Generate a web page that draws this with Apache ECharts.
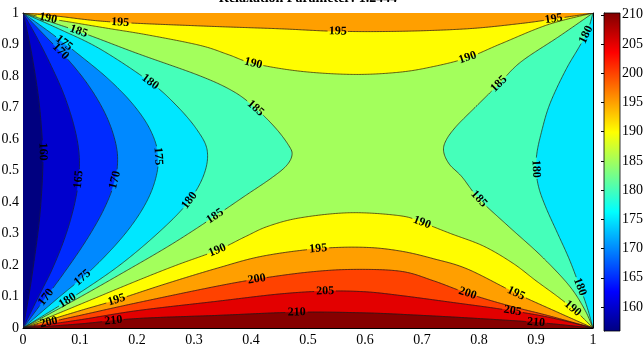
<!DOCTYPE html>
<html><head><meta charset="utf-8">
<script src="https://cdn.jsdelivr.net/npm/echarts@6/dist/echarts.min.js"></script>
<style>html,body{margin:0;padding:0;background:#fff}#c{width:643px;height:349px}</style>
</head><body><div id="c"></div>
<script>
// ---------- data ----------
const titleText = 'Relaxation Parameter: 1.2444';
const levels = [160,165,170,175,180,185,190,195,200,205,210];
const cbMin = 155.9, cbMax = 210.3;
const cbTicks = [160,165,170,175,180,185,190,195,200,205,210];

// contour lines (x, y)
const c160 = [[0,1],[0.01,0.92],[0.02,0.82],[0.028,0.72],[0.033,0.62],[0.035,0.54],[0.033,0.44],[0.028,0.33],[0.02,0.22],[0.011,0.11],[0,0]];
const c165 = [[0,1],[0.025,0.92],[0.05,0.83],[0.072,0.74],[0.089,0.645],[0.098,0.56],[0.098,0.48],[0.09,0.39],[0.074,0.29],[0.052,0.19],[0.026,0.095],[0,0]];
const c170 = [[0,1],[0.04,0.925],[0.08,0.85],[0.115,0.77],[0.143,0.685],[0.16,0.605],[0.166,0.535],[0.16,0.46],[0.14,0.37],[0.108,0.27],[0.068,0.165],[0.033,0.08],[0,0]];
const c175 = [[0,1],[0.05,0.935],[0.1,0.865],[0.15,0.79],[0.193,0.71],[0.223,0.63],[0.237,0.55],[0.232,0.47],[0.212,0.385],[0.175,0.29],[0.12,0.185],[0.058,0.09],[0,0]];
const c180L = [[0,1],[0.06,0.952],[0.135,0.886],[0.223,0.781],[0.27,0.705],[0.305,0.63],[0.323,0.565],[0.318,0.49],[0.292,0.405],[0.245,0.315],[0.17,0.2],[0.085,0.095],[0,0]];
const c180R = [[1,1],[0.99,0.94],[0.975,0.89],[0.956,0.832],[0.936,0.76],[0.921,0.695],[0.91,0.625],[0.902,0.56],[0.9,0.505],[0.905,0.445],[0.918,0.38],[0.938,0.3],[0.958,0.22],[0.975,0.14],[0.989,0.07],[1,0]];
const c185L = [[0,1],[0.1,0.94],[0.2,0.872],[0.311,0.8],[0.37,0.75],[0.408,0.698],[0.443,0.635],[0.466,0.58],[0.472,0.55],[0.462,0.515],[0.435,0.475],[0.39,0.42],[0.337,0.355],[0.26,0.265],[0.17,0.17],[0.085,0.083],[0,0]];
const c185R = [[1,1],[0.94,0.925],[0.873,0.844],[0.835,0.775],[0.793,0.7],[0.76,0.64],[0.742,0.595],[0.738,0.56],[0.748,0.52],[0.77,0.48],[0.8,0.41],[0.851,0.324],[0.909,0.229],[0.958,0.135],[0.985,0.06],[1,0]];
const c190T = [[0,1],[0.044,0.983],[0.1,0.966],[0.153,0.95],[0.22,0.93],[0.311,0.897],[0.36,0.868],[0.404,0.84],[0.487,0.815],[0.58,0.805],[0.66,0.812],[0.72,0.83],[0.78,0.858],[0.838,0.902],[0.921,0.963],[1,1]];
const c190B = [[0,0],[0.1,0.075],[0.2,0.15],[0.27,0.2],[0.341,0.247],[0.39,0.29],[0.43,0.323],[0.487,0.35],[0.575,0.366],[0.663,0.356],[0.7,0.335],[0.75,0.3],[0.808,0.26],[0.86,0.205],[0.9,0.15],[0.94,0.097],[0.972,0.05],[1,0]];
const c195T = [[0,1],[0.06,0.99],[0.153,0.972],[0.311,0.959],[0.45,0.95],[0.55,0.942],[0.663,0.942],[0.78,0.95],[0.87,0.966],[0.931,0.981],[1,1]];
const c195B = [[0,0],[0.1,0.055],[0.162,0.088],[0.25,0.14],[0.341,0.19],[0.42,0.228],[0.518,0.252],[0.6,0.256],[0.663,0.244],[0.72,0.22],[0.78,0.187],[0.865,0.11],[0.938,0.05],[1,0]];
const c200 = [[0,0],[0.1,0.04],[0.2,0.08],[0.341,0.133],[0.42,0.158],[0.504,0.178],[0.58,0.186],[0.663,0.18],[0.72,0.15],[0.78,0.11],[0.85,0.072],[0.92,0.04],[1,0]];
const c205 = [[0,0],[0.1,0.026],[0.2,0.055],[0.341,0.085],[0.45,0.108],[0.53,0.117],[0.6,0.115],[0.663,0.103],[0.75,0.082],[0.838,0.06],[0.92,0.035],[1,0]];
const c210 = [[0,0],[0.1,0.013],[0.2,0.03],[0.341,0.04],[0.48,0.05],[0.6,0.048],[0.7,0.04],[0.8,0.03],[0.9,0.018],[1,0]];

// contour labels: [level, x, y]
const labelLevels = [190,195,185,175,170,195,190,190,195,180,180,185,185,160,165,170,175,180,185,190,180,185,190,195,200,205,210,195,200,175,170,180,195,200,210,180,190,205,210];
const labelX = [0.044,0.17,0.097,0.07,0.062,0.552,0.404,0.78,0.931,0.988,0.223,0.408,0.835,0.034,0.098,0.162,0.236,0.292,0.337,0.341,0.9,0.8,0.7,0.518,0.411,0.53,0.48,0.865,0.78,0.105,0.04,0.077,0.165,0.045,0.158,0.977,0.965,0.86,0.9];
const labelY = [0.978,0.971,0.935,0.9,0.87,0.942,0.84,0.858,0.981,0.93,0.781,0.698,0.775,0.56,0.47,0.47,0.545,0.405,0.355,0.247,0.505,0.41,0.335,0.252,0.155,0.117,0.05,0.11,0.11,0.162,0.1,0.09,0.09,0.018,0.025,0.13,0.06,0.052,0.018];

// ---------- helpers ----------
const jetStops = [[0,[0,0,128]],[0.125,[0,0,255]],[0.375,[0,255,255]],[0.625,[255,255,0]],[0.875,[255,0,0]],[1,[128,0,0]]];
function jet(t){
  t = Math.max(0, Math.min(1, t));
  for (let i = 1; i < jetStops.length; i++) {
    if (t <= jetStops[i][0]) {
      const a = jetStops[i-1], b = jetStops[i];
      const f = (t - a[0]) / (b[0] - a[0]);
      const c = a[1].map((v,k) => Math.round(v + (b[1][k]-v)*f));
      return 'rgb(' + c.join(',') + ')';
    }
  }
  return 'rgb(128,0,0)';
}
const levelColor = L => jet((L - cbMin) / (cbMax - cbMin));

const curves = [
  {level:160,pts:c160},{level:165,pts:c165},{level:170,pts:c170},{level:175,pts:c175},
  {level:180,pts:c180L},{level:180,pts:c180R},{level:185,pts:c185L},{level:185,pts:c185R},
  {level:190,pts:c190T},{level:190,pts:c190B},{level:195,pts:c195T},{level:195,pts:c195B},
  {level:200,pts:c200},{level:205,pts:c205},{level:210,pts:c210}
];
const regions = [
  {level:cbMin, parts:[{p:[0,0]},{p:[1,0]},{p:[1,1]},{p:[0,1]}]},
  {level:160, parts:[{c:c160},{p:[1,0]},{p:[1,1]}]},
  {level:165, parts:[{c:c165},{p:[1,0]},{p:[1,1]}]},
  {level:170, parts:[{c:c170},{p:[1,0]},{p:[1,1]}]},
  {level:175, parts:[{c:c175},{p:[1,0]},{p:[1,1]}]},
  {level:180, parts:[{c:c180L},{c:c180R,rev:true}]},
  {level:185, parts:[{c:c185L},{c:c185R,rev:true}]},
  {level:190, parts:[{c:c190T}]},{level:190, parts:[{c:c190B}]},
  {level:195, parts:[{c:c195T}]},{level:195, parts:[{c:c195B}]},
  {level:200, parts:[{c:c200}]},{level:205, parts:[{c:c205}]},{level:210, parts:[{c:c210}]}
];

function smoothPx(px){
  const out = [], n = px.length;
  for (let i = 0; i < n-1; i++) {
    const p0 = px[Math.max(0,i-1)], p1 = px[i], p2 = px[i+1], p3 = px[Math.min(n-1,i+2)];
    const len = Math.hypot(p2[0]-p1[0], p2[1]-p1[1]);
    const steps = Math.max(2, Math.ceil(len/1.5));
    for (let s = 0; s < steps; s++) {
      const t = s/steps, t2 = t*t, t3 = t2*t;
      const f = k => 0.5*((2*p1[k]) + (-p0[k]+p2[k])*t + (2*p0[k]-5*p1[k]+4*p2[k]-p3[k])*t2 + (-p0[k]+3*p1[k]-3*p2[k]+p3[k])*t3);
      out.push([f(0), f(1)]);
    }
  }
  out.push(px[n-1]);
  return out;
}
function densePx(c, api){ return smoothPx(c.map(q => api.coord(q))); }

function placeLabels(api){
  const res = [];
  for (let i = 0; i < labelLevels.length; i++) {
    const L = labelLevels[i];
    const target = api.coord([labelX[i], labelY[i]]);
    let best = null;
    curves.filter(c => c.level === L).forEach(c => {
      const d = densePx(c.pts, api);
      for (let j = 1; j < d.length-1; j++) {
        const dist = Math.hypot(d[j][0]-target[0], d[j][1]-target[1]);
        if (!best || dist < best.dist) {
          const a = d[Math.min(d.length-1,j+2)], b = d[Math.max(0,j-2)];
          best = {dist, x:d[j][0], y:d[j][1], ang:Math.atan2(a[1]-b[1], a[0]-b[0])};
        }
      }
    });
    let ang = best.ang;
    if (ang > Math.PI/2) ang -= Math.PI;
    if (ang < -Math.PI/2) ang += Math.PI;
    res.push({L, x:best.x, y:best.y, rot:-ang});
  }
  return res;
}

const fontFam = '"Liberation Serif","Times New Roman",serif';
const chart = echarts.init(document.getElementById('c'), null, {renderer:'canvas'});

const axisCommon = {
  type:'value', min:0, max:1, interval:0.1,
  axisLine:{show:true, onZero:false, lineStyle:{color:'#000', width:1}},
  axisTick:{show:true, inside:true, length:4, lineStyle:{color:'#000'}},
  splitLine:{show:false},
  axisLabel:{color:'#000', fontFamily:fontFam, fontSize:14}
};

chart.setOption({
  animation:false,
  backgroundColor:'#fff',
  title:{show:false},
  graphic:[{type:'text', x:308, y:-2, style:{text:titleText, fill:'#000', font:'bold 14px ' + fontFam, align:'center', verticalAlign:'middle'}}],
  grid:[
    {left:23, top:13, width:570, height:315, outerBoundsMode:'none'},
    {left:604, top:13, width:16, height:318, outerBoundsMode:'none'}
  ],
  xAxis:[
    Object.assign({}, axisCommon, {gridIndex:0, position:'bottom', axisLabel:Object.assign({}, axisCommon.axisLabel, {margin:5})}),
    Object.assign({}, axisCommon, {gridIndex:0, position:'top', axisLabel:{show:false}}),
    {type:'value', gridIndex:1, min:0, max:1, show:false}
  ],
  yAxis:[
    Object.assign({}, axisCommon, {gridIndex:0, position:'left', axisLabel:Object.assign({}, axisCommon.axisLabel, {margin:4})}),
    Object.assign({}, axisCommon, {gridIndex:0, position:'right', axisLabel:{show:false}}),
    {type:'value', gridIndex:1, min:cbMin, max:cbMax, position:'right',
     axisLine:{show:true, lineStyle:{color:'#000', width:1}},
     axisTick:{show:true, inside:true, length:3, customValues:cbTicks, lineStyle:{color:'#000'}},
     axisLabel:{show:true, customValues:cbTicks, color:'#000', fontFamily:fontFam, fontSize:14, margin:2},
     splitLine:{show:false}}
  ],
  series:[
    {type:'custom', name:'fills', xAxisIndex:0, yAxisIndex:0, clip:true, z:1, silent:true,
     data: regions.map((r,i) => [i]),
     renderItem:(params, api) => {
       const r = regions[params.dataIndex];
       let pts = [];
       r.parts.forEach(part => {
         if (part.p) pts.push(api.coord(part.p));
         else { let d = densePx(part.c, api); if (part.rev) d = d.slice().reverse(); pts = pts.concat(d); }
       });
       const col = levelColor(r.level);
       return {type:'polygon', shape:{points:pts}, style:{fill:col, stroke:col, lineWidth:0.6}};
     }},
    {type:'custom', name:'lines', xAxisIndex:0, yAxisIndex:0, clip:true, z:2, silent:true,
     data: curves.map((c,i) => [i]),
     renderItem:(params, api) => {
       const c = curves[params.dataIndex];
       const labs = placeLabels(api).filter(l => l.L === c.level);
       const d = densePx(c.pts, api);
       const runs = []; let cur = [];
       d.forEach(p => {
         const hidden = labs.some(l => Math.hypot(p[0]-l.x, p[1]-l.y) < 10);
         if (hidden) { if (cur.length > 1) runs.push(cur); cur = []; }
         else cur.push(p);
       });
       if (cur.length > 1) runs.push(cur);
       return {type:'group', children: runs.map(r => ({type:'polyline', shape:{points:r}, style:{stroke:'#1a1a1a', lineWidth:0.7, fill:null}}))};
     }},
    {type:'custom', name:'labels', xAxisIndex:0, yAxisIndex:0, clip:false, z:3, silent:true,
     data: labelLevels.map((l,i) => [i]),
     renderItem:(params, api) => {
       const l = placeLabels(api)[params.dataIndex];
       return {type:'text', x:l.x, y:l.y, rotation:l.rot,
         style:{text:String(l.L), fill:'#000', fontSize:12, fontWeight:'bold', fontFamily:fontFam, align:'center', verticalAlign:'middle'}};
     }},
    {type:'custom', name:'colorbar', xAxisIndex:2, yAxisIndex:2, z:1, silent:true,
     data:[[0]],
     renderItem:(params, api) => {
       const a = api.coord([0, cbMax]), b = api.coord([1, cbMin]);
       const stops = jetStops.slice().reverse().map(s => ({offset:1 - s[0], color:'rgb(' + s[1].join(',') + ')'}));
       return {type:'rect', shape:{x:a[0], y:a[1], width:b[0]-a[0], height:b[1]-a[1]},
         style:{fill:new echarts.graphic.LinearGradient(0,0,0,1,stops), stroke:'#000', lineWidth:0.8}};
     }}
  ]
});
</script>
</body></html>
